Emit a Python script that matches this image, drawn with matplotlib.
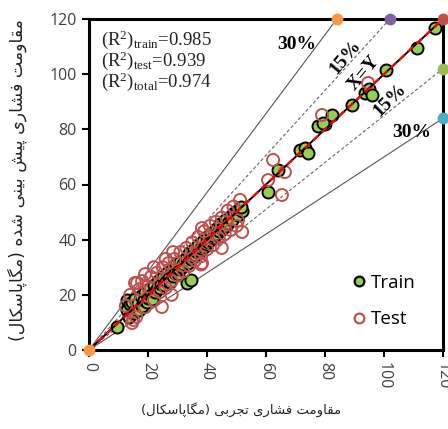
import matplotlib
matplotlib.use("Agg")
import matplotlib.pyplot as plt
import numpy as np

# ---------------- data ----------------
train_x = [9.5, 12.9, 13.9, 13, 13.5, 14, 14.5, 15, 15.5, 16, 16.5, 17, 17.5, 18, 18.5, 19, 19.5, 20,
           20.5, 21, 21.5, 22, 22.5, 23, 23.5, 24, 24.5, 25, 25.5, 26, 26.5, 27, 27.5, 28, 28.5, 29,
           29.5, 30, 30.5, 31, 31.5, 32, 33.2, 34.6, 33, 33.5, 34, 34.5, 35, 35.5, 36, 36.5, 37, 37.5,
           38, 38.5, 39, 39.5, 40, 40.5, 41, 41.5, 42, 42.5, 43, 43.5, 44, 44.5, 45, 45.5, 46, 46.5,
           47, 48, 48.5, 49, 50, 50.5, 51, 52, 51.5,
           60.7, 64.1, 71.5, 73.2, 74.2, 77.6, 80, 79.3, 82.4, 89.2, 93.6, 95, 96, 100.7, 111.2, 117.3]
train_y = [8.3, 18.1, 15.2, 14.5, 12, 16.5, 17.5, 13.5, 18.5, 15, 17, 14.5, 19.5, 16, 18, 21, 17.5, 19,
           22, 20, 18.5, 23.5, 21, 22, 25, 22.5, 24, 26.5, 23.5, 25, 28, 26, 24.5, 29, 27, 28,
           31, 27.5, 29.5, 32, 30, 31, 24.3, 25.4, 33.5, 31.5, 35, 33, 34, 36.5, 34.5, 35.5, 38, 36,
           37, 39.5, 37.5, 38.5, 41, 39, 40, 42.5, 40.5, 41.5, 44, 42, 43, 45.5, 44, 44.5, 47, 45,
           46, 48.5, 47, 49.5, 50.5, 49, 51, 50.5, 52,
           57.3, 65.3, 72.5, 73.2, 71.4, 81.2, 82, 82.3, 85.2, 88.8, 93.2, 94.5, 92.5, 101.5, 109.5, 116.7]

test_x = [14.6, 15.6, 12.5, 14, 17, 16, 18, 19, 20, 21, 22, 23, 24, 25, 26, 27, 28, 29, 30, 31, 32,
          33, 34, 35, 36, 37, 38, 39, 40, 41, 42, 43, 44, 45, 46, 47, 48, 49, 50, 51.9, 50.5, 45, 38,
          28, 22, 19, 26, 51.2, 38.3, 38.3, 24.7, 15, 16.3, 28.5,
          60.7, 62.4, 65.4, 66.4, 79, 94.6]
test_y = [9.8, 24.3, 16, 20, 22, 12, 25, 15.5, 23, 26.5, 18, 28, 21, 30, 22.5, 31.5, 25, 33, 27, 35.5, 28.5,
          37, 30.5, 39, 32.5, 41, 34, 43, 36.5, 45, 38, 46.5, 40.5, 48, 42, 50.5, 43.5, 52, 45, 42.8, 47, 37, 31,
          20, 30, 27.5, 33, 54.4, 44.2, 31.5, 15.6, 10.9, 24.3, 35.5,
          61.6, 68.9, 56.2, 64.5, 85.2, 96.8]

r2_labels = ["train", "test", "total"]
r2_values = [0.985, 0.939, 0.974]

axis_max = 120
ticks = [0, 20, 40, 60, 80, 100, 120]
band_factors = [0.7, 0.85, 1.0]  # ±30 %, ±15 %, X=Y

xlabel_fa = "مقاومت فشاری تجربی (مگاپاسکال)"
ylabel_fa = "مقاومت فشاری پیش بینی شده (مگاپاسکال)"

# ---------------- Persian shaping (presentation forms) ----------------
FORMS = {
    'ا': ('\uFE8D', '\uFE8E', None, None),
    'ب': ('\uFE8F', '\uFE90', '\uFE91', '\uFE92'),
    'پ': ('\uFB56', '\uFB57', '\uFB58', '\uFB59'),
    'ت': ('\uFE95', '\uFE96', '\uFE97', '\uFE98'),
    'ج': ('\uFE9D', '\uFE9E', '\uFE9F', '\uFEA0'),
    'د': ('\uFEA9', '\uFEAA', None, None),
    'ر': ('\uFEAD', '\uFEAE', None, None),
    'س': ('\uFEB1', '\uFEB2', '\uFEB3', '\uFEB4'),
    'ش': ('\uFEB5', '\uFEB6', '\uFEB7', '\uFEB8'),
    'ف': ('\uFED1', '\uFED2', '\uFED3', '\uFED4'),
    'ق': ('\uFED5', '\uFED6', '\uFED7', '\uFED8'),
    'ک': ('\uFB8E', '\uFB8F', '\uFB90', '\uFB91'),
    'گ': ('\uFB92', '\uFB93', '\uFB94', '\uFB95'),
    'ل': ('\uFEDD', '\uFEDE', '\uFEDF', '\uFEE0'),
    'م': ('\uFEE1', '\uFEE2', '\uFEE3', '\uFEE4'),
    'ن': ('\uFEE5', '\uFEE6', '\uFEE7', '\uFEE8'),
    'ه': ('\uFEE9', '\uFEEA', '\uFEEB', '\uFEEC'),
    'و': ('\uFEED', '\uFEEE', None, None),
    'ی': ('\uFBFC', '\uFBFD', '\uFBFE', '\uFBFF'),
}


def shape_fa(text):
    out = []
    n = len(text)
    for i, ch in enumerate(text):
        if ch not in FORMS:
            out.append(ch)
            continue
        prev = text[i - 1] if i > 0 else None
        nxt = text[i + 1] if i < n - 1 else None
        joins_prev = prev in FORMS and FORMS[prev][2] is not None
        joins_next = nxt in FORMS and FORMS[ch][2] is not None
        iso, fin, ini, med = FORMS[ch]
        if joins_prev and joins_next:
            out.append(med)
        elif joins_prev:
            out.append(fin)
        elif joins_next:
            out.append(ini)
        else:
            out.append(iso)
    vis = ''.join(out)[::-1]
    return vis.translate(str.maketrans('()', ')('))


# ---------------- figure ----------------
plt.rcParams['mathtext.fontset'] = 'custom'
plt.rcParams['mathtext.rm'] = 'Liberation Serif'
plt.rcParams['mathtext.it'] = 'Liberation Serif:italic'
plt.rcParams['mathtext.default'] = 'regular'

fig = plt.figure(figsize=(4.48, 4.29), dpi=100)
ax = fig.add_axes([89 / 448, 1 - 350 / 429, 354 / 448, 331 / 429])
ax.set_xlim(0, axis_max)
ax.set_ylim(0, axis_max)

xs = np.array([0, axis_max])
line_style = {0.7: dict(color='#555555', lw=0.8, ls='-'),
              0.85: dict(color='#666666', lw=0.8, ls=(0, (3, 2)))}
end_colors = {(0.7, 'up'): '#F79646', (0.85, 'up'): '#8064A2',
              (0.85, 'dn'): '#9BBB59', (0.7, 'dn'): '#4BACC6'}
for f in band_factors[:2]:
    up_x = axis_max * f
    ax.plot([0, up_x], [0, axis_max], zorder=2, **line_style[f])
    ax.plot([0, axis_max], [0, axis_max * f], zorder=2, **line_style[f])
    ax.plot([up_x], [axis_max], 'o', ms=7.5, color=end_colors[(f, 'up')], clip_on=False, zorder=6)
    ax.plot([axis_max], [axis_max * f], 'o', ms=7.5, color=end_colors[(f, 'dn')], clip_on=False, zorder=6)

ax.scatter(train_x, train_y, s=75, facecolor='#92D050', edgecolor='black', linewidth=1.4, zorder=3)
ax.scatter(test_x, test_y, s=75, facecolor='none', edgecolor='#C0504D', linewidth=1.4, zorder=4)

ax.plot(xs, xs, color='black', lw=1.4, zorder=5)
ax.plot(xs, xs, color='red', lw=1.7, ls=(0, (3, 2)), zorder=5)
ax.plot([axis_max], [axis_max], 'o', ms=7.5, color='#C0504D', clip_on=False, zorder=6)
ax.plot([0], [0], 'o', ms=7.5, color='#F79646', clip_on=False, zorder=6)

# annotations
serif = 'Liberation Serif'
for i, (lab, val) in enumerate(zip(r2_labels, r2_values)):
    ax.text(4.2, 112.5 - i * 7.7, r'(R$^{2}$)$_{\mathrm{%s}}$=%.3f' % (lab, val),
            fontsize=13.5, family=serif, va='center', ha='left', color='#222222')
ax.text(70.5, 110.6, '30%', fontsize=14, family=serif, weight='bold', ha='center', va='center')
ax.text(109.5, 78.7, '30%', fontsize=14, family=serif, weight='bold', ha='center', va='center')
ax.text(87, 106, '15%', fontsize=14, family=serif, weight='bold', ha='center', va='center', rotation=50)
ax.text(93, 100.4, 'X=Y', fontsize=14, family=serif, weight='bold', ha='center', va='center', rotation=50)
ax.text(102, 90.6, '15%', fontsize=14, family=serif, weight='bold', ha='center', va='center', rotation=45)

# legend
from matplotlib.lines import Line2D
handles = [Line2D([], [], ls='none', marker='o', ms=7, mfc='#92D050', mec='black', mew=1.6),
           Line2D([], [], ls='none', marker='o', ms=7, mfc='none', mec='#C0504D', mew=1.6)]
ax.legend(handles, ['Train', 'Test'], loc='center left', bbox_to_anchor=(0.736, 0.148),
          frameon=False, prop={'family': 'Open Sans', 'size': 13.5}, handletextpad=0.15,
          labelspacing=1.0, handlelength=1.0, borderpad=0, borderaxespad=0)

# axes styling
for sp in ax.spines.values():
    sp.set_linewidth(2.2)
ax.set_xticks(ticks)
ax.set_yticks(ticks)
ax.set_xticklabels([str(t) for t in ticks], rotation=270, fontsize=11.5, color='#404040', family='Open Sans')
ax.set_yticklabels([str(t) for t in ticks], fontsize=11.5, color='#404040', family='Open Sans')
ax.tick_params(direction='out', length=5, width=1.5, pad=4)

fig.text(17 / 448, 1 - 180 / 429, shape_fa(ylabel_fa), rotation=90, ha='center', va='center',
         fontsize=12.5, family='DejaVu Sans', color='#222222')
fig.text(241 / 448, 1 - 410 / 429, shape_fa(xlabel_fa), ha='center', va='center',
         fontsize=9.5, family='DejaVu Sans', color='#222222')

fig.savefig('out.png', dpi=100)
